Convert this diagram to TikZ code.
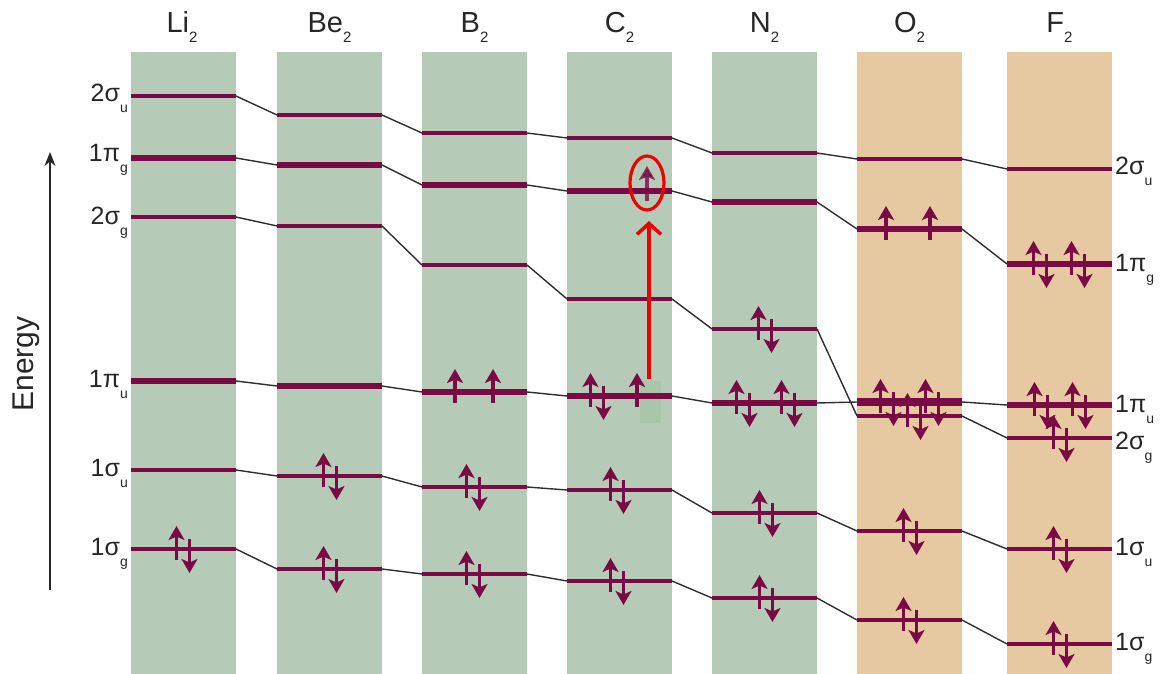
\documentclass[tikz,border=0pt]{standalone}
\usepackage{fontspec}
\setmainfont{Liberation Sans}
\usetikzlibrary{arrows.meta}

\definecolor{colgreen}{HTML}{B5CBB8}
\definecolor{coltan}{HTML}{E7C9A1}
\definecolor{mo}{HTML}{7A0A46}
\definecolor{link}{HTML}{2E2E2E}
\definecolor{patchgreen}{HTML}{A9C6AA}
\definecolor{jumpred}{HTML}{F20000}

% lowered subscripts for headers and orbital labels
\newcommand\hdsub[1]{\raisebox{-10pt}{\fontsize{15}{15}\selectfont #1}}
\newcommand\lbsub[1]{\raisebox{-11pt}{\fontsize{14}{14}\selectfont #1}}

% electrons: single spin-up arrow and a paired up/down couple
\newcommand\eup[2]{\draw[spin] (#1,#2+11) -- (#1,#2-23);}
\newcommand\edown[2]{\draw[spin] (#1,#2-10) -- (#1,#2+24);}
\newcommand\epair[2]{\eup{#1-6.5}{#2}\edown{#1+6.5}{#2}}

\begin{document}
\begin{tikzpicture}[x=1pt,y=-1pt,
  thinlvl/.style={draw=mo, line width=3.5pt},
  thicklvl/.style={draw=mo, line width=6.5pt},
  connector/.style={draw=link, line width=1.4pt},
  spin/.style={draw=mo, line width=3.4pt, -{Stealth[width=16pt,length=14pt,inset=3.5pt]}},
  hdr/.style={font=\fontsize{29}{29}\selectfont, text=black!85, inner sep=0pt, anchor=base},
  lbl/.style={font=\fontsize{25}{25}\selectfont, text=black!85, inner sep=0pt},
  axisarrow/.style={draw=black!85, line width=1.5pt, -{Stealth[width=11pt,length=14pt]}},
  jump/.style={draw=jumpred, line width=3.5pt, -{Straight Barb[length=11pt,width=24pt]}}]

\useasboundingbox (0,0) rectangle (1162,674);

% molecule columns
\foreach \x/\c in {131/colgreen,277/colgreen,422/colgreen,567/colgreen,712/colgreen,857/coltan,1007/coltan}
  \fill[\c] (\x,52) rectangle ++(105,622);

% patch where the promoted electron used to sit
\fill[patchgreen] (640,381) rectangle (661,423);

% level end points: name / left x / 2su / 1pg / 2sg / 1pu / 1su / 1sg
\foreach \m/\x/\a/\b/\c/\d/\e/\f in {
    Li/131/96/158/217/381/470/549,
    Be/277/115/165/226/386/476/569,
    B/422/133/185/265/392/487/574,
    C/567/138/191/299/396/490/581,
    N/712/153/202/329/403/513/598,
    O/857/159/229/416/402/531/620,
    F/1007/169/264/438/405/549/644}{
  \coordinate (\m-2su-L) at (\x,\a); \coordinate (\m-2su-R) at (\x+105,\a);
  \coordinate (\m-1pg-L) at (\x,\b); \coordinate (\m-1pg-R) at (\x+105,\b);
  \coordinate (\m-2sg-L) at (\x,\c); \coordinate (\m-2sg-R) at (\x+105,\c);
  \coordinate (\m-1pu-L) at (\x,\d); \coordinate (\m-1pu-R) at (\x+105,\d);
  \coordinate (\m-1su-L) at (\x,\e); \coordinate (\m-1su-R) at (\x+105,\e);
  \coordinate (\m-1sg-L) at (\x,\f); \coordinate (\m-1sg-R) at (\x+105,\f);
}

% correlation lines between neighbouring molecules
\foreach \p/\n in {Li/Be,Be/B,B/C,C/N,N/O,O/F}
  \foreach \o in {2su,1pg,2sg,1pu,1su,1sg}
    \draw[connector] (\p-\o-R) -- (\n-\o-L);

% orbital levels
\foreach \m in {Li,Be,B,C,N,O,F}{
  \foreach \o in {2su,2sg,1su,1sg} \draw[thinlvl] (\m-\o-L) -- (\m-\o-R);
  \foreach \o in {1pg,1pu} \draw[thicklvl] (\m-\o-L) -- (\m-\o-R);
}
\draw[thicklvl, line width=8pt] (O-1pu-L) -- (O-1pu-R);

% electron occupation
\epair{183}{549}
\epair{330}{476} \epair{330}{569}
\eup{455}{392} \eup{493}{392} \epair{473}{487} \epair{473}{574}
\epair{597}{396} \eup{637}{396} \epair{617}{490} \epair{617}{581}
\epair{765}{329} \epair{743}{403} \epair{788}{403} \epair{766}{513} \epair{766}{598}
\eup{886}{229} \eup{930}{229} \epair{887}{402} \epair{932}{402} \epair{914}{416}
\epair{910}{531} \epair{910}{620}
\epair{1040}{264} \epair{1078}{264} \epair{1041}{405} \epair{1079}{405}
\epair{1060}{438} \epair{1060}{549} \epair{1060}{644}

% promoted electron in C2
\draw[spin, opacity=0.8] (647,201) -- (647,166);
\draw[draw=jumpred, line width=3.2pt] (647,183) ellipse [x radius=17, y radius=27];
\coordinate (ring-bottom) at (649,221);
\coordinate (jump-start) at (649,379);
\draw[jump] (jump-start) -- (ring-bottom);

% headers
\node[hdr] (h-Li) at (182,33) {Li\hdsub{2}};
\node[hdr] (h-Be) at (329.5,33) {Be\hdsub{2}};
\node[hdr] (h-B) at (474.5,33) {B\hdsub{2}};
\node[hdr] (h-C) at (619.5,33) {C\hdsub{2}};
\node[hdr] (h-N) at (764.5,33) {N\hdsub{2}};
\node[hdr] (h-O) at (909.5,33) {O\hdsub{2}};
\node[hdr] (h-F) at (1059.5,33) {F\hdsub{2}};

% orbital labels, left side
\node[lbl, anchor=base east] (l-2su) at (128,102) {2σ\lbsub{u}};
\node[lbl, anchor=base east] (l-1pg) at (128,161) {1π\lbsub{g}};
\node[lbl, anchor=base east] (l-2sg) at (128,224) {2σ\lbsub{g}};
\node[lbl, anchor=base east] (l-1pu) at (128,387) {1π\lbsub{u}};
\node[lbl, anchor=base east] (l-1su) at (128,476) {1σ\lbsub{u}};
\node[lbl, anchor=base east] (l-1sg) at (128,555) {1σ\lbsub{g}};

% orbital labels, right side
\node[lbl, anchor=base west] (r-2su) at (1115,175) {2σ\lbsub{u}};
\node[lbl, anchor=base west] (r-1pg) at (1115,271) {1π\lbsub{g}};
\node[lbl, anchor=base west] (r-1pu) at (1115,412) {1π\lbsub{u}};
\node[lbl, anchor=base west] (r-2sg) at (1115,449) {2σ\lbsub{g}};
\node[lbl, anchor=base west] (r-1su) at (1115,555) {1σ\lbsub{u}};
\node[lbl, anchor=base west] (r-1sg) at (1115,650) {1σ\lbsub{g}};

% energy axis
\coordinate (axis-low) at (50,590);
\coordinate (axis-high) at (50,152);
\draw[axisarrow] (axis-low) -- (axis-high);
\node[rotate=90, font=\fontsize{30}{30}\selectfont, text=black!85, inner sep=0pt] (energy) at (26,364) {Energy};
\end{tikzpicture}
\end{document}
